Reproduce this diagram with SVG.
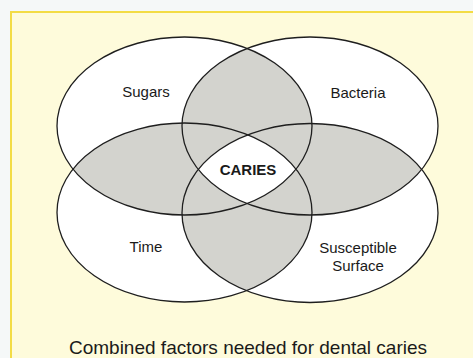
<svg xmlns="http://www.w3.org/2000/svg" width="473" height="358" viewBox="0 0 473 358">
<style>
.t{font-family:"Liberation Sans",Arial,sans-serif;font-size:15px;fill:#1a1a1a;text-anchor:middle}
.b{font-weight:bold}
.ol{fill:none;stroke:#1e1e1e;stroke-width:1.3}
.g{fill:#d3d3ce}
</style>
<defs>
<clipPath id="cTL"><ellipse cx="184.5" cy="126" rx="127.5" ry="89"/></clipPath>
<clipPath id="cTR"><ellipse cx="310" cy="126" rx="128" ry="89"/></clipPath>
<clipPath id="cBL"><ellipse cx="184.5" cy="212.5" rx="127.5" ry="89.5"/></clipPath>
<clipPath id="cBR"><ellipse cx="310" cy="213" rx="128" ry="89.5"/></clipPath>
</defs>
<rect width="473" height="358" fill="#f5f8f8"/>
<rect x="11" y="12" width="470" height="360" fill="#fefbdb" stroke="#f3dc45" stroke-width="2"/>
<g id="fills">
<ellipse cx="184.5" cy="126" rx="127.5" ry="89" fill="#fff"/>
<ellipse cx="310" cy="126" rx="128" ry="89" fill="#fff"/>
<ellipse cx="184.5" cy="212.5" rx="127.5" ry="89.5" fill="#fff"/>
<ellipse cx="310" cy="213" rx="128" ry="89.5" fill="#fff"/>
<ellipse class="g" cx="310" cy="126" rx="128" ry="89" clip-path="url(#cTL)"/>
<ellipse class="g" cx="184.5" cy="212.5" rx="127.5" ry="89.5" clip-path="url(#cTL)"/>
<ellipse class="g" cx="310" cy="213" rx="128" ry="89.5" clip-path="url(#cTL)"/>
<ellipse class="g" cx="310" cy="213" rx="128" ry="89.5" clip-path="url(#cTR)"/>
<ellipse class="g" cx="184.5" cy="212.5" rx="127.5" ry="89.5" clip-path="url(#cTR)"/>
<ellipse class="g" cx="310" cy="213" rx="128" ry="89.5" clip-path="url(#cBL)"/>
<g clip-path="url(#cTL)"><g clip-path="url(#cTR)"><g clip-path="url(#cBL)">
<ellipse cx="310" cy="213" rx="128" ry="89.5" fill="#fff"/>
</g></g></g>
</g>
<g id="sugars"><ellipse class="ol" cx="184.5" cy="126" rx="127.5" ry="89"/><text class="t" x="146" y="97">Sugars</text></g>
<g id="bacteria"><ellipse class="ol" cx="310" cy="126" rx="128" ry="89"/><text class="t" x="358" y="97.5">Bacteria</text></g>
<g id="time"><ellipse class="ol" cx="184.5" cy="212.5" rx="127.5" ry="89.5"/><text class="t" x="146" y="252">Time</text></g>
<g id="surface"><ellipse class="ol" cx="310" cy="213" rx="128" ry="89.5"/><text class="t" x="358" y="253">Susceptible</text><text class="t" x="358" y="270.5">Surface</text></g>
<g id="caries"><text class="t b" x="248" y="175">CARIES</text></g>
<g id="connectors"></g>
<text class="t" x="248" y="354" style="font-size:19px">Combined factors needed for dental caries</text>
</svg>
